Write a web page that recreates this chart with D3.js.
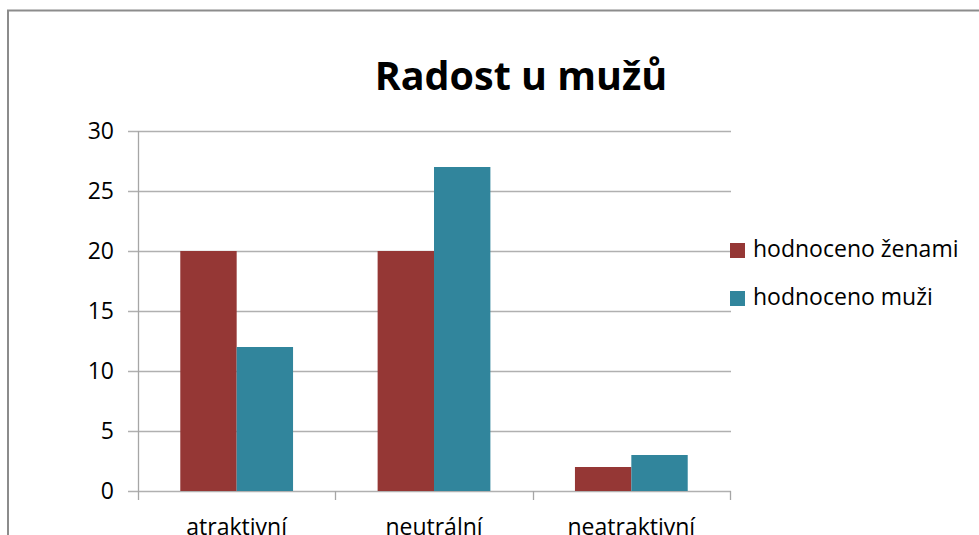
<!DOCTYPE html>
<html>
<head>
<meta charset="utf-8">
<script src="https://cdn.jsdelivr.net/npm/d3@7"></script>
<style>
  body { margin: 0; background: #fff; }
  text { font-family: "Open Sans", sans-serif; fill: #000; }
</style>
</head>
<body>
<svg id="chart" width="979" height="535"></svg>
<script>
var categories = ["atraktivní", "neutrální", "neatraktivní"];
var series = ["hodnoceno ženami", "hodnoceno muži"];
var zenami = [20, 20, 2];
var muzi = [12, 27, 3];
var yTicks = [0, 5, 10, 15, 20, 25, 30];
var colors = ["#953735", "#31859c"];

var values = [zenami, muzi];
var rows = categories.map(function(c, i) {
  return { cat: c, vals: series.map(function(s, j) { return { key: s, idx: j, value: values[j][i] }; }) };
});

var svg = d3.select("#chart");

// outer chart frame (right and bottom edges fall outside the window)
svg.append("rect")
    .attr("x", 8).attr("y", 10.5)
    .attr("width", 1100).attr("height", 700)
    .attr("fill", "none")
    .attr("stroke", "#8c8c8c")
    .attr("stroke-width", 2);

svg.append("text")
    .attr("x", 521).attr("y", 90)
    .attr("text-anchor", "middle")
    .style("font-size", "39.5px")
    .style("font-weight", "bold")
    .text("Radost u mužů");

var x0 = d3.scaleBand().domain(categories).range([138, 730]);
var x1 = d3.scaleBand().domain(series).range([0, x0.bandwidth()]).paddingOuter(0.75);
var y = d3.scaleLinear().domain([0, 30]).range([491, 131]);

// gridlines + y tick labels
var yg = svg.append("g");
yg.selectAll("line")
  .data(yTicks)
  .enter().append("line")
    .attr("x1", 128).attr("x2", 731)
    .attr("y1", function(d) { return Math.round(y(d)) + 0.5; })
    .attr("y2", function(d) { return Math.round(y(d)) + 0.5; })
    .attr("stroke", "#b0b0b0")
    .attr("stroke-width", 1.3);

yg.selectAll("text")
  .data(yTicks)
  .enter().append("text")
    .attr("x", 114)
    .attr("y", function(d) { return y(d) + 8; })
    .attr("text-anchor", "end")
    .style("font-size", "23px")
    .text(function(d) { return d; });

// y axis line
svg.append("line")
    .attr("x1", 138.5).attr("x2", 138.5)
    .attr("y1", y(30)).attr("y2", y(0))
    .attr("stroke", "#a6a6a6").attr("stroke-width", 1.3);

// bars
var grp = svg.append("g").selectAll("g")
  .data(rows)
  .enter().append("g")
    .attr("transform", function(d) { return "translate(" + x0(d.cat) + ",0)"; });

grp.selectAll("rect")
  .data(function(d) { return d.vals; })
  .enter().append("rect")
    .attr("x", function(d) { return x1(d.key); })
    .attr("y", function(d) { return y(d.value); })
    .attr("width", x1.bandwidth())
    .attr("height", function(d) { return y(0) - y(d.value); })
    .attr("fill", function(d) { return colors[d.idx]; });

// x axis ticks
var xTickPos = categories.map(function(c) { return x0(c); }).concat([x0.range()[1]]);
svg.append("g").selectAll("line")
  .data(xTickPos)
  .enter().append("line")
    .attr("x1", function(d) { return Math.round(d) + 0.5; })
    .attr("x2", function(d) { return Math.round(d) + 0.5; })
    .attr("y1", y(0)).attr("y2", y(0) + 9)
    .attr("stroke", "#a6a6a6").attr("stroke-width", 1.3);

svg.append("g").selectAll("text")
  .data(categories)
  .enter().append("text")
    .attr("x", function(d) { return x0(d) + x0.bandwidth() / 2; })
    .attr("y", 535)
    .attr("text-anchor", "middle")
    .style("font-size", "23px")
    .text(function(d) { return d; });

// legend
var leg = svg.append("g").selectAll("g")
  .data(series)
  .enter().append("g")
    .attr("transform", function(d, i) { return "translate(730," + (243 + i * 48) + ")"; });

leg.append("rect")
    .attr("width", 15).attr("height", 15)
    .attr("fill", function(d, i) { return colors[i]; });

leg.append("text")
    .attr("x", 23).attr("y", 14)
    .style("font-size", "23px")
    .text(function(d) { return d; });
</script>
</body>
</html>
